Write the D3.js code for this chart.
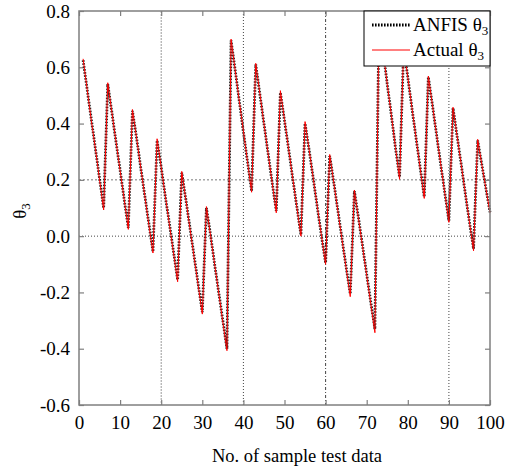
<!DOCTYPE html>
<html>
<head>
<meta charset="utf-8">
<script src="https://cdn.jsdelivr.net/npm/d3@7"></script>
<style>
  html, body { margin: 0; padding: 0; background: #fff; }
  svg { display: block; }
  svg text { font-family: 'Liberation Serif', 'Times New Roman', serif; }
</style>
</head>
<body>
<div id="chart"></div>
<script>
(function () {
	// Data, samples 1..100
	const actualTheta3 = [
		0.63, 0.52, 0.41, 0.31, 0.20, 0.093,
		0.545, 0.44, 0.337, 0.233, 0.13, 0.024,
		0.45, 0.35, 0.246, 0.144, 0.04, -0.06,
		0.346, 0.245, 0.143, 0.041, -0.06, -0.162,
		0.23, 0.13, 0.027, -0.074, -0.175, -0.277,
		0.105, 0.003, -0.10, -0.202, -0.305, -0.407,
		0.70, 0.59, 0.48, 0.374, 0.265, 0.156,
		0.614, 0.508, 0.40, 0.295, 0.19, 0.083,
		0.517, 0.414, 0.31, 0.207, 0.103, 0.0,
		0.407, 0.306, 0.205, 0.103, 0.0, -0.10,
		0.29, 0.19, 0.088, -0.013, -0.114, -0.215,
		0.164, 0.063, -0.038, -0.14, -0.241, -0.343,
		0.77, 0.655, 0.54, 0.43, 0.315, 0.202,
		0.673, 0.565, 0.457, 0.35, 0.242, 0.134,
		0.569, 0.465, 0.361, 0.257, 0.153, 0.049,
		0.458, 0.356, 0.254, 0.152, 0.05, -0.052,
		0.344, 0.255, 0.17, 0.083
	];
	const anfisTheta3 = [
		0.625, 0.52, 0.415, 0.31, 0.205, 0.10,
		0.54, 0.44, 0.335, 0.235, 0.13, 0.03,
		0.445, 0.35, 0.245, 0.145, 0.045, -0.055,
		0.34, 0.245, 0.14, 0.045, -0.055, -0.155,
		0.225, 0.13, 0.03, -0.07, -0.17, -0.27,
		0.10, 0.005, -0.10, -0.20, -0.30, -0.40,
		0.695, 0.59, 0.48, 0.37, 0.265, 0.16,
		0.61, 0.505, 0.40, 0.295, 0.19, 0.09,
		0.51, 0.41, 0.31, 0.205, 0.105, 0.005,
		0.40, 0.305, 0.205, 0.10, 0.0, -0.095,
		0.285, 0.19, 0.09, -0.01, -0.11, -0.205,
		0.16, 0.065, -0.035, -0.135, -0.235, -0.33,
		0.765, 0.655, 0.54, 0.43, 0.315, 0.21,
		0.668, 0.565, 0.455, 0.35, 0.245, 0.14,
		0.565, 0.465, 0.36, 0.255, 0.155, 0.055,
		0.455, 0.355, 0.255, 0.15, 0.05, -0.045,
		0.34, 0.255, 0.17, 0.085
	];
	const sampleNo = d3.range(1, actualTheta3.length + 1);

	const xTicks = [0, 10, 20, 30, 40, 50, 60, 70, 80, 90, 100];
	const yTicks = [-0.6, -0.4, -0.2, 0.0, 0.2, 0.4, 0.6, 0.8];
	const xGrid = [20, 40, 60, 90];
	const yGrid = [0.2, 0.0];

	const width = 510;
	const height = 468;
	const plot = { left: 79, right: 490, top: 11, bottom: 405 };
	const FONT = "'Liberation Serif', 'Times New Roman', serif";
	const FRAME = "#7f7f7f";

	const svg = d3.select("#chart")
		.append("svg")
		.attr("width", width)
		.attr("height", height)
		.style("font-family", FONT);

	const x = d3.scaleLinear().domain([0, 100]).range([plot.left, plot.right]);
	const y = d3.scaleLinear().domain([-0.6, 0.8]).range([plot.bottom, plot.top]);

	// Grid lines (only a few, dotted)
	svg.append("g")
		.selectAll("line")
		.data(xGrid)
		.join("line")
		.attr("x1", d => x(d))
		.attr("x2", d => x(d))
		.attr("y1", plot.top)
		.attr("y2", plot.bottom)
		.attr("stroke", d => (d === 20 ? "#9a9a9a" : "#444"))
		.attr("stroke-width", 1)
		.attr("stroke-dasharray", d => (d === 20 ? "2,1" : d === 60 ? "3,2,1,2" : "1,2"));

	svg.append("g")
		.selectAll("line")
		.data(yGrid)
		.join("line")
		.attr("x1", plot.left)
		.attr("x2", plot.right)
		.attr("y1", d => y(d))
		.attr("y2", d => y(d))
		.attr("stroke", d => (d === 0 ? "#444" : "#777"))
		.attr("stroke-width", 1)
		.attr("stroke-dasharray", d => (d === 0 ? "1,2" : "2,2"));

	// Axes, ticks pointing inwards
	const styleAxis = g => {
		g.attr("font-family", null).attr("font-size", null);
		g.select(".domain").remove();
		g.selectAll(".tick line").attr("stroke", FRAME).attr("stroke-width", 1.2);
		g.selectAll(".tick text")
			.attr("fill", "#000")
			.attr("font-family", FONT)
			.style("font-size", "19px");
	};

	svg.append("g")
		.attr("transform", `translate(0,${plot.bottom})`)
		.call(d3.axisBottom(x).tickValues(xTicks).tickSizeInner(-5).tickSizeOuter(0).tickPadding(11).tickFormat(d => String(d)))
		.call(styleAxis);

	svg.append("g")
		.attr("transform", `translate(0,${plot.top})`)
		.call(d3.axisTop(x).tickValues(xTicks).tickSizeInner(-5).tickSizeOuter(0).tickFormat(""))
		.call(styleAxis);

	svg.append("g")
		.attr("transform", `translate(${plot.left},0)`)
		.call(d3.axisLeft(y).tickValues(yTicks).tickSizeInner(-5).tickSizeOuter(0).tickPadding(9).tickFormat(d => d.toFixed(1)))
		.call(styleAxis);

	svg.append("g")
		.attr("transform", `translate(${plot.right},0)`)
		.call(d3.axisRight(y).tickValues(yTicks).tickSizeInner(-5).tickSizeOuter(0).tickFormat(""))
		.call(styleAxis);

	// Lines
	const points = arr => sampleNo.map((s, i) => [s, arr[i]]);
	const line = d3.line().x(d => x(d[0])).y(d => y(d[1]));

	svg.append("path")
		.datum(points(anfisTheta3))
		.attr("d", line)
		.attr("fill", "none")
		.attr("stroke", "#000")
		.attr("stroke-width", 2.8)
		.attr("stroke-dasharray", "1.6,1.4")
		.attr("stroke-opacity", 0.85);

	svg.append("path")
		.datum(points(actualTheta3))
		.attr("d", line)
		.attr("fill", "none")
		.attr("stroke", "#ff0000")
		.attr("stroke-width", 1);

	// Frame
	svg.append("rect")
		.attr("x", plot.left)
		.attr("y", plot.top)
		.attr("width", plot.right - plot.left)
		.attr("height", plot.bottom - plot.top)
		.attr("fill", "none")
		.attr("stroke", FRAME)
		.attr("stroke-width", 1.5);

	// Legend
	const lg = svg.append("g").attr("transform", `translate(364,${plot.top})`);
	lg.append("rect")
		.attr("width", plot.right - 364)
		.attr("height", 55)
		.attr("fill", "#fff")
		.attr("stroke", "#000")
		.attr("stroke-width", 1);

	const legendItems = [
		{ name: "ANFIS θ", sub: "3", color: "#000", w: 2.8, dash: "1.6,1.4" },
		{ name: "Actual θ", sub: "3", color: "#ff0000", w: 1, dash: null }
	];
	legendItems.forEach((it, i) => {
		const yy = 14 + i * 25;
		lg.append("line")
			.attr("x1", 8).attr("x2", 46)
			.attr("y1", yy).attr("y2", yy)
			.attr("stroke", it.color)
			.attr("stroke-width", it.w)
			.attr("stroke-dasharray", it.dash);
		const t = lg.append("text")
			.attr("x", 49)
			.attr("y", yy + 6)
			.style("font-size", "19px");
		t.append("tspan").text(it.name);
		t.append("tspan").attr("dy", 4).style("font-size", "13px").text(it.sub);
	});

	// Axis titles
	svg.append("text")
		.attr("x", 297)
		.attr("y", 462)
		.attr("text-anchor", "middle")
		.style("font-size", "18.5px")
		.text("No. of sample test data");

	const yt = svg.append("text")
		.attr("transform", "translate(26,211) rotate(-90)")
		.attr("text-anchor", "middle")
		.style("font-size", "19px");
	yt.append("tspan").text("θ");
	yt.append("tspan").attr("dy", 4).style("font-size", "13px").text("3");
})();
</script>
</body>
</html>
